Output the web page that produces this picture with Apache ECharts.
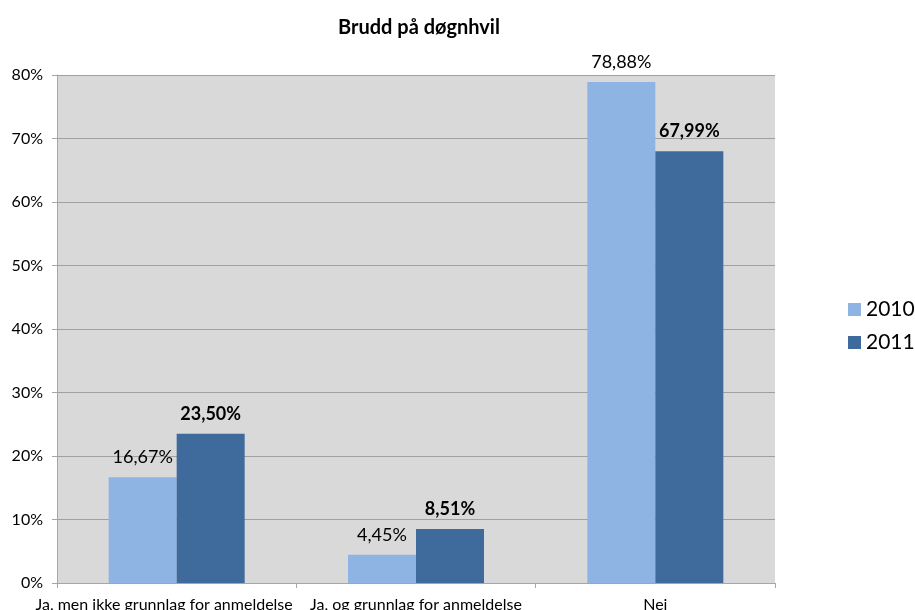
<!DOCTYPE html>
<html>
<head>
<meta charset="utf-8">
<script src="https://cdn.jsdelivr.net/npm/echarts@6/dist/echarts.min.js"></script>
<style>
  html, body { margin: 0; padding: 0; background: #fff; }
  #chart { width: 915px; height: 610px; }
</style>
</head>
<body>
<div id="chart"></div>
<script>
// Andel brudd på døgnhvil, per år
const categories = ['Ja, men ikke grunnlag for anmeldelse', 'Ja, og grunnlag for anmeldelse', 'Nei'];
const values2010 = [16.67, 4.45, 78.88];
const values2011 = [23.50, 8.51, 67.99];
const yTicks = [0, 10, 20, 30, 40, 50, 60, 70, 80];

const FONT = 'Lato, "Open Sans", sans-serif';
const fmtPct = v => v.toFixed(2).replace('.', ',') + '%';

// the long first label is nudged left so it clears its neighbour
const categoryData = categories.map((name, i) =>
  i === 0 ? { value: name, textStyle: { padding: [0, 25, 0, 0] } } : name);

const chart = echarts.init(document.getElementById('chart'));
chart.setOption({
  animation: false,
  textStyle: { fontFamily: FONT },
  title: {
    text: 'Brudd på døgnhvil',
    left: 333, top: 13,
    textStyle: { fontFamily: FONT, fontSize: 20, fontWeight: 'bold', color: '#000' }
  },
  legend: {
    orient: 'vertical',
    left: 843, top: 294,
    itemWidth: 13, itemHeight: 13, itemGap: 12,
    icon: 'rect',
    textStyle: { fontFamily: FONT, fontSize: 21, color: '#000' },
    data: ['2010', '2011']
  },
  grid: {
    left: 57, right: 140, top: 75, bottom: 27,
    outerBoundsMode: 'none', containLabel: false,
    show: true, backgroundColor: '#d9d9d9', borderWidth: 0
  },
  xAxis: {
    type: 'category',
    data: categoryData,
    axisLine: { lineStyle: { color: '#a6a6a6' } },
    axisTick: { show: true, alignWithLabel: false, length: 5, lineStyle: { color: '#a6a6a6' } },
    axisLabel: { interval: 0, color: '#000', fontSize: 16, fontFamily: FONT, margin: 14 }
  },
  yAxis: {
    type: 'value',
    min: yTicks[0], max: yTicks[yTicks.length - 1], interval: 10,
    axisLine: { show: true, lineStyle: { color: '#a6a6a6' } },
    axisTick: { show: true, length: 5, lineStyle: { color: '#a6a6a6' } },
    axisLabel: { color: '#000', fontSize: 16, fontFamily: FONT, margin: 14, formatter: v => v + '%' },
    splitLine: { lineStyle: { color: '#a0a0a0', width: 1 } }
  },
  series: [
    {
      name: '2010', type: 'bar', data: values2010,
      barWidth: 68, barGap: '0%',
      itemStyle: { color: '#8eb4e3' },
      label: {
        show: true, position: 'top', distance: 11,
        fontFamily: FONT, fontSize: 18, color: '#000',
        formatter: p => fmtPct(p.value)
      }
    },
    {
      name: '2011', type: 'bar', data: values2011,
      barWidth: 68, barGap: '0%',
      itemStyle: { color: '#3f6a9c' },
      label: {
        show: true, position: 'top', distance: 11,
        fontFamily: FONT, fontSize: 18, fontWeight: 'bold', color: '#000',
        formatter: p => fmtPct(p.value)
      }
    }
  ]
});
</script>
</body>
</html>
